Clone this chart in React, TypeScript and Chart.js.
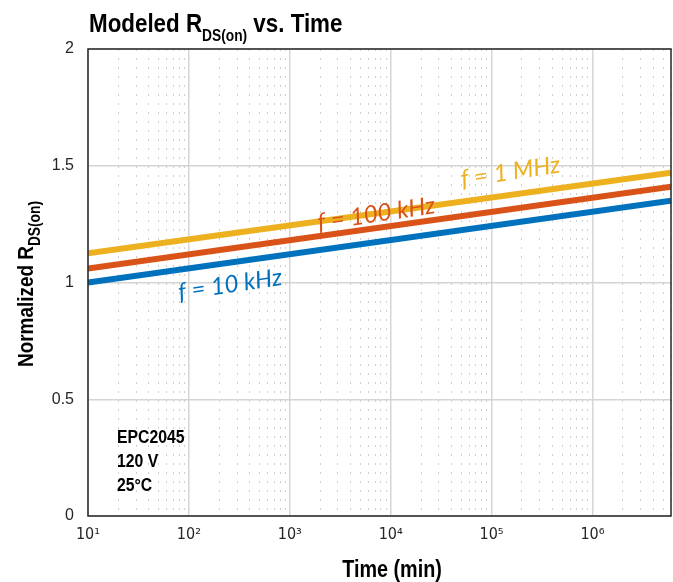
import React, { useEffect, useRef } from 'react';
import { Chart, registerables } from 'chart.js';

Chart.register(...registerables);

// ---- data ----
const timeMin = [10, 6e6];
const rds10kHz = [1.0, 1.35];
const rds100kHz = [1.06, 1.41];
const rds1MHz = [1.125, 1.47];
const seriesNames = ['f = 10 kHz', 'f = 100 kHz', 'f = 1 MHz'];
const xDecades = [1, 2, 3, 4, 5, 6];
const yTickValues = [0, 0.5, 1, 1.5, 2];
const noteLines = ['EPC2045', '120 V', '25°C'];
// label anchor points in data coordinates (time, RDS)
const labelTime = [256, 7200, 154000];
const labelRds = [0.99, 1.293, 1.473];

const COLORS = ['#0072BD', '#D95319', '#EDB120'];
const SANS = "'Liberation Sans', Arial, sans-serif";
const COND = "'DejaVu Sans Condensed', 'Liberation Sans', sans-serif";
const ITALIC = "Lato, 'Open Sans', sans-serif";
const SQUEEZE = 0.86;
const SUP: Record<string, string> = { '0': '⁰', '1': '¹', '2': '²', '3': '³', '4': '⁴', '5': '⁵', '6': '⁶', '7': '⁷', '8': '⁸', '9': '⁹' };

const X_MIN = 10;
const X_MAX = 6e6;

function isMajor(v: number) {
  const l = Math.log10(v);
  return Math.abs(l - Math.round(l)) < 1e-9;
}

// draw a run of [text, font, baselineOffset] parts, horizontally condensed
function drawRuns(ctx: any, parts: [string, string, number][], x: number, y: number, align: 'left' | 'center', sx: number) {
  ctx.save();
  ctx.translate(x, y);
  ctx.scale(sx, 1);
  ctx.textAlign = 'left';
  ctx.textBaseline = 'alphabetic';
  let total = 0;
  for (const [t, f] of parts) {
    ctx.font = f;
    total += ctx.measureText(t).width;
  }
  let cx = align === 'center' ? -total / 2 : 0;
  for (const [t, f, dy] of parts) {
    ctx.font = f;
    ctx.fillText(t, cx, dy);
    cx += ctx.measureText(t).width;
  }
  ctx.restore();
}

const overlayPlugin = {
  id: 'overlay',
  afterDatasetsDraw(chart: any) {
    const { ctx, scales } = chart;
    const xs = scales.x;
    const ys = scales.y;
    ctx.save();
    ctx.font = `italic 24px ${ITALIC}`;
    ctx.textAlign = 'center';
    ctx.textBaseline = 'middle';
    for (let i = 0; i < seriesNames.length; i++) {
      const px = xs.getPixelForValue(labelTime[i]);
      const py = ys.getPixelForValue(labelRds[i]);
      ctx.save();
      ctx.translate(px, py);
      ctx.rotate((-8.5 * Math.PI) / 180);
      ctx.fillStyle = COLORS[i];
      ctx.fillText(seriesNames[i], 0, 0);
      ctx.restore();
    }
    ctx.restore();
  },
  afterDraw(chart: any) {
    const { ctx, chartArea } = chart;
    const { left, top, right, bottom } = chartArea;
    ctx.save();
    // frame
    ctx.strokeStyle = '#262626';
    ctx.lineWidth = 1.5;
    ctx.strokeRect(left, top, right - left, bottom - top);

    ctx.fillStyle = '#000';
    // title
    drawRuns(
      ctx,
      [
        ['Modeled R', `bold 26px ${SANS}`, 0],
        ['DS(on)', `bold 16px ${SANS}`, 9],
        [' vs. Time', `bold 26px ${SANS}`, 0],
      ],
      89,
      32,
      'left',
      SQUEEZE
    );

    // x axis title
    drawRuns(ctx, [['Time (min)', `bold 23px ${SANS}`, 0]], 392, 577, 'center', SQUEEZE);

    // y axis title
    ctx.save();
    ctx.translate(33, 284);
    ctx.rotate(-Math.PI / 2);
    drawRuns(
      ctx,
      [
        ['Normalized R', `bold 22px ${SANS}`, 0],
        ['DS(on)', `bold 16px ${SANS}`, 7],
      ],
      0,
      0,
      'center',
      SQUEEZE
    );
    ctx.restore();

    // notes
    noteLines.forEach((t, i) => {
      drawRuns(ctx, [[t, `bold 19px ${SANS}`, 0]], 117, 443 + i * 24, 'left', 0.83);
    });
    ctx.restore();
  },
};

export default function App() {
  const ref = useRef<HTMLCanvasElement | null>(null);
  useEffect(() => {
    if (!ref.current) return;
    const mk = (ys: number[], i: number) => ({
      label: seriesNames[i],
      data: timeMin.map((t, k) => ({ x: t, y: ys[k] })),
      borderColor: COLORS[i],
      backgroundColor: COLORS[i],
      borderWidth: 6,
      pointRadius: 0,
      borderCapStyle: 'butt',
      fill: false,
      tension: 0,
    });
    const chart = new Chart(ref.current, {
      type: 'line',
      data: {
        datasets: [mk(rds10kHz, 0), mk(rds100kHz, 1), mk(rds1MHz, 2)] as any,
      },
      plugins: [overlayPlugin],
      options: {
        animation: false,
        responsive: false,
        devicePixelRatio: 1,
        layout: { padding: { top: 49, left: 0, right: 2, bottom: 0 } },
        plugins: { legend: { display: false }, tooltip: { enabled: false }, title: { display: false } },
        scales: {
          x: {
            type: 'logarithmic',
            min: X_MIN,
            max: X_MAX,
            afterBuildTicks: (scale: any) => {
              const ticks: any[] = [];
              xDecades.forEach((d) => {
                for (let m = 1; m <= 9; m++) {
                  const v = m * Math.pow(10, d);
                  if (v <= X_MAX + 1) ticks.push({ value: v });
                }
              });
              scale.ticks = ticks;
            },
            afterFit: (scale: any) => {
              scale.height = 66;
              scale.paddingRight = 0;
              scale.paddingLeft = 0;
            },
            border: {
              display: false,
              dash: (c: any) => (c.tick && !isMajor(c.tick.value) ? [2, 7] : []),
            },
            grid: {
              drawTicks: false,
              color: (c: any) => (c.tick && isMajor(c.tick.value) ? '#d6d6d6' : '#cfcfcf'),
              lineWidth: (c: any) => (c.tick && isMajor(c.tick.value) ? 1.5 : 1),
            },
            ticks: {
              autoSkip: false,
              maxRotation: 0,
              padding: 9,
              color: '#262626',
              font: { family: COND, size: 16 },
              callback: (v: any) => {
                const n = Number(v);
                if (!isMajor(n)) return '';
                const e = String(Math.round(Math.log10(n)));
                return '10' + e.split('').map((c) => SUP[c]).join('');
              },
            },
          },
          y: {
            type: 'linear',
            min: 0,
            max: 2,
            afterBuildTicks: (scale: any) => {
              scale.ticks = yTickValues.map((v) => ({ value: v }));
            },
            afterFit: (scale: any) => {
              scale.width = 88;
              scale.paddingTop = 0;
              scale.paddingBottom = 0;
            },
            border: { display: false },
            grid: { drawTicks: false, color: '#d4d4d4', lineWidth: 1.5 },
            ticks: {
              padding: 14,
              color: '#262626',
              font: { family: SANS, size: 16 },
              callback: (v: any) => String(v),
            },
          },
        },
      } as any,
    });
    return () => chart.destroy();
  }, []);
  return (
    <div style={{ position: 'fixed', left: 0, top: 0, width: 673, height: 582, background: '#fff' }}>
      <canvas ref={ref} width={673} height={582} style={{ display: 'block', width: 673, height: 582 }} />
    </div>
  );
}
